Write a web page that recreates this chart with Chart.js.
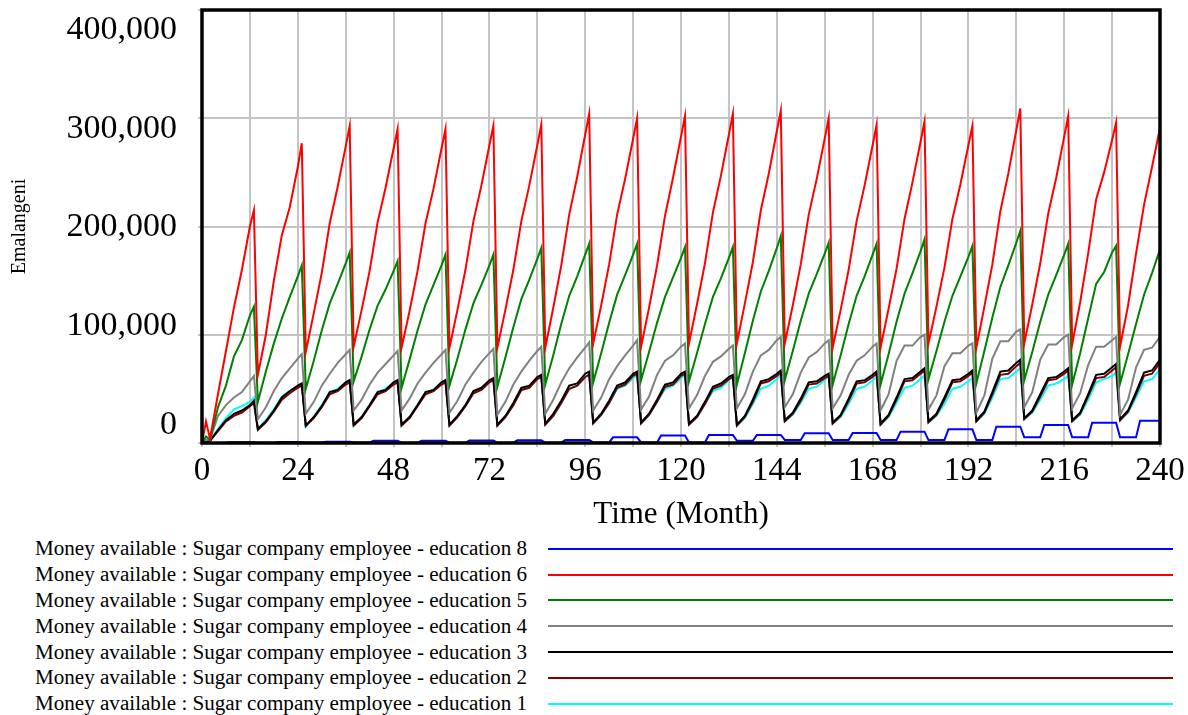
<!DOCTYPE html>
<html>
<head>
<meta charset="utf-8">
<script src="https://cdn.jsdelivr.net/npm/chart.js@4.4.1/dist/chart.umd.min.js"></script>
<style>
  html, body { margin: 0; padding: 0; background: #fff; }
  #wrap { position: relative; width: 1188px; height: 715px; overflow: hidden; }
  #chart { position: absolute; left: 0; top: 0; }
  #legend { position: absolute; left: 0; top: 536px; font-family: 'Liberation Serif', 'Times New Roman', serif; font-size: 21.1px; color: #000; }
  .row { display: flex; align-items: center; height: 25.8px; }
  .row span { display: block; width: 527px; text-align: right; white-space: nowrap; }
  .row i { display: block; margin-left: 21px; width: 625px; height: 2px; }
</style>
</head>
<body>
<div id="wrap">
  <canvas id="chart" width="1188" height="535"></canvas>
  <div id="legend"></div>
</div>
<script>
// time points (months) shared by education 1-6
const months = [
  0, 1, 2, 4, 6, 8, 10, 12, 13,
  14, 16, 18, 20, 22, 24, 25,
  26, 28, 30, 32, 34, 36, 37,
  38, 40, 42, 44, 46, 48, 49,
  50, 52, 54, 56, 58, 60, 61,
  62, 64, 66, 68, 70, 72, 73,
  74, 76, 78, 80, 82, 84, 85,
  86, 88, 90, 92, 94, 96, 97,
  98, 100, 102, 104, 106, 108, 109,
  110, 112, 114, 116, 118, 120, 121,
  122, 124, 126, 128, 130, 132, 133,
  134, 136, 138, 140, 142, 144, 145,
  146, 148, 150, 152, 154, 156, 157,
  158, 160, 162, 164, 166, 168, 169,
  170, 172, 174, 176, 178, 180, 181,
  182, 184, 186, 188, 190, 192, 193,
  194, 196, 198, 200, 202, 204, 205,
  206, 208, 210, 212, 214, 216, 217,
  218, 220, 222, 224, 226, 228, 229,
  230, 232, 234, 236, 238, 240
];

// values in thousand Emalangeni
const edu6 = [
  0, 20, 4, 45, 85, 125, 160, 200, 215,
  63, 100, 150, 192, 218, 255, 277,
  84, 120, 157, 203, 237, 274, 293,
  89, 123, 159, 204, 236, 272, 290,
  88, 122, 159, 203, 235, 272, 290,
  88, 123, 160, 205, 238, 275, 293,
  88, 123, 160, 205, 238, 275, 294,
  88, 125, 164, 211, 246, 285, 304,
  92, 127, 165, 211, 244, 281, 300,
  89, 125, 164, 210, 245, 283, 302,
  92, 128, 166, 213, 247, 285, 304,
  92, 129, 167, 215, 249, 288, 307,
  92, 127, 165, 211, 244, 281, 300,
  88, 123, 160, 205, 238, 275, 294,
  88, 124, 161, 207, 241, 278, 297,
  92, 126, 162, 207, 239, 275, 293,
  88, 126, 165, 214, 249, 289, 309,
  92, 128, 166, 212, 245, 283, 302,
  91, 130, 175, 225, 250, 280, 296,
  89, 127, 175, 220, 255, 291
];

const edu5 = [
  0, 6, 3, 33, 53, 80, 95, 118, 126,
  38, 66, 92, 115, 135, 154, 164,
  50, 76, 104, 129, 147, 166, 176,
  57, 80, 105, 127, 142, 159, 168,
  51, 77, 104, 128, 146, 164, 174,
  53, 78, 105, 129, 146, 164, 174,
  52, 79, 107, 133, 151, 170, 180,
  54, 81, 110, 136, 154, 174, 184,
  56, 83, 111, 137, 155, 174, 184,
  58, 84, 111, 135, 153, 171, 181,
  57, 83, 110, 135, 152, 171, 181,
  54, 83, 113, 140, 159, 180, 191,
  58, 85, 113, 138, 156, 175, 185,
  54, 81, 110, 136, 154, 174, 184,
  54, 82, 112, 138, 157, 177, 188,
  59, 85, 112, 136, 154, 172, 182,
  55, 85, 116, 144, 164, 185, 196,
  58, 84, 112, 137, 155, 174, 184,
  54, 83, 115, 147, 158, 176, 182,
  55, 82, 110, 137, 157, 179
];

const edu4 = [
  0, 3, 3, 25, 35, 42, 47, 57, 62,
  22, 33, 48, 60, 69, 78, 82,
  27, 38, 53, 64, 74, 82, 86,
  30, 40, 54, 65, 73, 81, 85,
  30, 41, 55, 65, 74, 82, 86,
  28, 39, 54, 65, 75, 83, 87,
  26, 38, 54, 66, 76, 85, 89,
  27, 40, 56, 69, 79, 88, 93,
  30, 42, 59, 71, 81, 90, 95,
  31, 43, 63, 76, 81, 89, 92,
  32, 44, 62, 75, 80, 87, 90,
  32, 45, 66, 81, 86, 95, 98,
  33, 45, 65, 79, 84, 92, 95,
  32, 44, 63, 76, 81, 89, 92,
  30, 45, 76, 90, 90, 98, 100,
  31, 44, 71, 83, 83, 90, 92,
  28, 44, 78, 94, 94, 103, 105,
  33, 47, 77, 91, 91, 98, 100,
  32, 46, 72, 89, 89, 95, 98,
  26, 40, 70, 86, 88, 98
];

const edu3 = [
  0, 1, 2, 12, 21, 27, 30, 35, 39,
  13, 20, 30, 42, 48, 53, 55,
  16, 24, 34, 47, 49, 56, 58,
  17, 24, 35, 47, 49, 56, 58,
  17, 24, 35, 47, 49, 56, 58,
  17, 25, 35, 48, 51, 58, 60,
  17, 25, 37, 51, 53, 61, 63,
  18, 27, 39, 53, 55, 64, 66,
  19, 27, 39, 53, 56, 64, 66,
  19, 27, 40, 54, 56, 64, 66,
  18, 25, 38, 52, 55, 61, 63,
  17, 25, 40, 57, 59, 64, 67,
  21, 28, 41, 56, 57, 62, 64,
  19, 26, 41, 57, 58, 63, 66,
  18, 26, 42, 59, 60, 66, 69,
  20, 27, 42, 58, 59, 64, 67,
  21, 29, 47, 66, 67, 74, 77,
  23, 30, 45, 60, 61, 66, 69,
  21, 28, 45, 63, 64, 70, 73,
  22, 30, 47, 65, 67, 77
];

const edu2 = [
  0, 1, 2, 11, 20, 25, 28, 34, 37,
  12, 19, 29, 40, 46, 51, 53,
  16, 23, 33, 45, 48, 54, 56,
  16, 23, 34, 45, 48, 54, 56,
  16, 23, 34, 45, 48, 54, 56,
  16, 24, 34, 46, 49, 56, 58,
  16, 24, 35, 49, 51, 59, 61,
  17, 25, 37, 50, 53, 61, 63,
  18, 26, 37, 51, 54, 62, 64,
  18, 26, 38, 52, 54, 62, 64,
  17, 24, 36, 50, 53, 59, 61,
  16, 24, 38, 55, 57, 62, 65,
  20, 27, 39, 54, 55, 60, 62,
  18, 25, 39, 55, 56, 61, 64,
  17, 25, 40, 57, 58, 64, 67,
  19, 26, 40, 56, 57, 62, 65,
  20, 28, 45, 63, 64, 71, 74,
  22, 29, 43, 58, 59, 64, 67,
  20, 27, 43, 60, 61, 67, 70,
  21, 29, 45, 62, 64, 74
];

const edu1 = [
  0, 1, 2, 13, 23, 31, 34, 38, 42,
  13, 21, 31, 43, 48, 52, 54,
  15, 24, 35, 47, 50, 56, 58,
  16, 24, 35, 47, 50, 56, 58,
  16, 24, 35, 47, 49, 56, 58,
  16, 24, 35, 47, 50, 57, 59,
  16, 24, 36, 49, 52, 60, 62,
  17, 25, 37, 50, 53, 61, 64,
  18, 26, 37, 50, 53, 60, 63,
  18, 26, 38, 50, 53, 60, 63,
  17, 24, 36, 48, 51, 58, 61,
  16, 23, 36, 50, 53, 59, 63,
  20, 26, 37, 50, 52, 58, 62,
  18, 24, 36, 50, 52, 58, 61,
  17, 24, 37, 51, 53, 59, 62,
  19, 25, 36, 50, 52, 57, 60,
  20, 27, 42, 59, 60, 66, 69,
  22, 28, 40, 53, 55, 59, 62,
  20, 26, 40, 56, 59, 62, 65,
  21, 28, 42, 57, 59, 68
];

// education 8 moves in steps, so it has its own time points
const blueMonths = [
  0, 6, 7, 13, 14, 18, 19, 25, 26, 30, 31, 37, 38, 42, 43, 49,
  50, 54, 55, 61, 62, 66, 67, 73, 74, 78, 79, 85, 86, 90, 91, 97,
  98, 102, 103, 109, 110, 114, 115, 121, 122, 126, 127, 133, 134, 138, 139, 145,
  146, 150, 151, 157, 158, 162, 163, 169, 170, 174, 175, 181, 182, 186, 187, 193,
  194, 198, 199, 205, 206, 210, 211, 217, 218, 222, 223, 229, 230, 234, 235, 240
];
const edu8 = [
  0, 0.2, 0.6, 0.6, 0.3, 0.3, 1, 1, 0.5, 0.5, 1.2, 1.2, 0.5, 0.5, 2, 2,
  0.3, 0.3, 2, 2, 0.3, 0.3, 2.2, 2.2, 0.3, 0.3, 2.5, 2.5, 0.3, 0.3, 2.8, 2.8,
  0.5, 0.5, 5.2, 5.2, 0.5, 0.5, 7, 7, 0.5, 0.5, 7.4, 7.4, 2, 2, 7.4, 7.4,
  2.8, 2.8, 9, 9, 2.8, 2.8, 9.2, 9.2, 2.8, 2.8, 10.5, 10.5, 2.8, 2.8, 12.6, 12.6,
  2.8, 2.8, 15, 15, 5.2, 5.2, 16.6, 16.6, 5.2, 5.2, 18.8, 18.8, 5.2, 5.2, 20.6, 20.6
];

const xTicks = [0, 12, 24, 36, 48, 60, 72, 84, 96, 108, 120, 132, 144, 156, 168, 180, 192, 204, 216, 228, 240];
const yTicks = [0, 100000, 200000, 300000, 400000];

const series = [
  { label: 'Money available : Sugar company employee - education 8', color: '#0000ff', xs: blueMonths, vs: edu8 },
  { label: 'Money available : Sugar company employee - education 6', color: '#ff0000', xs: months, vs: edu6 },
  { label: 'Money available : Sugar company employee - education 5', color: '#008000', xs: months, vs: edu5 },
  { label: 'Money available : Sugar company employee - education 4', color: '#808080', xs: months, vs: edu4 },
  { label: 'Money available : Sugar company employee - education 3', color: '#000000', xs: months, vs: edu3 },
  { label: 'Money available : Sugar company employee - education 2', color: '#800000', xs: months, vs: edu2 },
  { label: 'Money available : Sugar company employee - education 1', color: '#00ffff', xs: months, vs: edu1 }
];

const serif = "'Liberation Serif', 'Times New Roman', serif";
const gridColor = '#c4c4c4';

const framePlugin = {
  id: 'frame',
  afterDatasetsDraw(chart) {
    const { ctx, chartArea: a } = chart;
    ctx.save();
    ctx.strokeStyle = '#000';
    ctx.lineWidth = 3.5;
    ctx.strokeRect(a.left, a.top, a.right - a.left, a.bottom - a.top);
    ctx.restore();
  }
};

const ctx = document.getElementById('chart').getContext('2d');
const chart = new Chart(ctx, {
  type: 'line',
  data: {
    datasets: series.map(s => ({
      label: s.label,
      data: s.xs.map((x, i) => ({ x: x, y: s.vs[i] * 1000 })),
      borderColor: s.color,
      backgroundColor: s.color,
      borderWidth: 2,
      pointRadius: 0,
      tension: 0,
      fill: false
    }))
  },
  options: {
    responsive: false,
    animation: false,
    layout: { padding: { top: 10, right: 28, bottom: 0, left: 0 } },
    plugins: {
      legend: { display: false },
      tooltip: { enabled: false }
    },
    scales: {
      x: {
        type: 'linear',
        min: 0,
        max: 240,
        border: { display: false },
        grid: { color: gridColor, lineWidth: 2, tickLength: 4, tickColor: gridColor },
        afterBuildTicks: s => { s.ticks = xTicks.map(v => ({ value: v })); },
        ticks: {
          autoSkip: false,
          maxRotation: 0,
          padding: 5,
          color: '#000',
          font: { family: serif, size: 33 },
          callback: v => (v % 24 === 0 ? String(v) : '')
        },
        title: {
          display: true,
          text: 'Time (Month)',
          color: '#000',
          font: { family: serif, size: 31 },
          padding: { top: 0, bottom: 2 }
        },
        afterFit: s => { s.height = 92; s.paddingLeft = 0; s.paddingRight = 0; }
      },
      y: {
        type: 'linear',
        position: 'left',
        min: 0,
        max: 400000,
        border: { display: false },
        grid: { color: gridColor, lineWidth: 2, tickLength: 4, tickColor: gridColor },
        afterBuildTicks: s => { s.ticks = yTicks.map(v => ({ value: v })); },
        ticks: { display: false },
        afterFit: s => { s.width = 22; s.paddingTop = 0; s.paddingBottom = 0; }
      },
      // label axis: Vensim spreads the labels a little wider than the grid
      yl: {
        type: 'linear',
        position: 'left',
        weight: 1,
        bounds: 'data',
        min: -18228,
        max: 420253,
        border: { display: false },
        grid: { display: false, drawTicks: false },
        afterBuildTicks: s => { s.ticks = yTicks.map(v => ({ value: v })); },
        ticks: {
          padding: 3,
          color: '#000',
          font: { family: serif, size: 34 },
          callback: v => v.toLocaleString('en-US')
        },
        title: {
          display: true,
          text: 'Emalangeni',
          color: '#000',
          font: { family: serif, size: 20 },
          padding: { top: 8, bottom: 0 }
        },
        afterFit: s => { s.width = 180; s.paddingTop = 0; s.paddingBottom = 0; }
      }
    }
  },
  plugins: [framePlugin]
});

// legend rows built from the datasets
const legend = document.getElementById('legend');
chart.data.datasets.forEach(d => {
  const row = document.createElement('div');
  row.className = 'row';
  const txt = document.createElement('span');
  txt.textContent = d.label;
  const line = document.createElement('i');
  line.style.background = d.borderColor;
  row.appendChild(txt);
  row.appendChild(line);
  legend.appendChild(row);
});
</script>
</body>
</html>
